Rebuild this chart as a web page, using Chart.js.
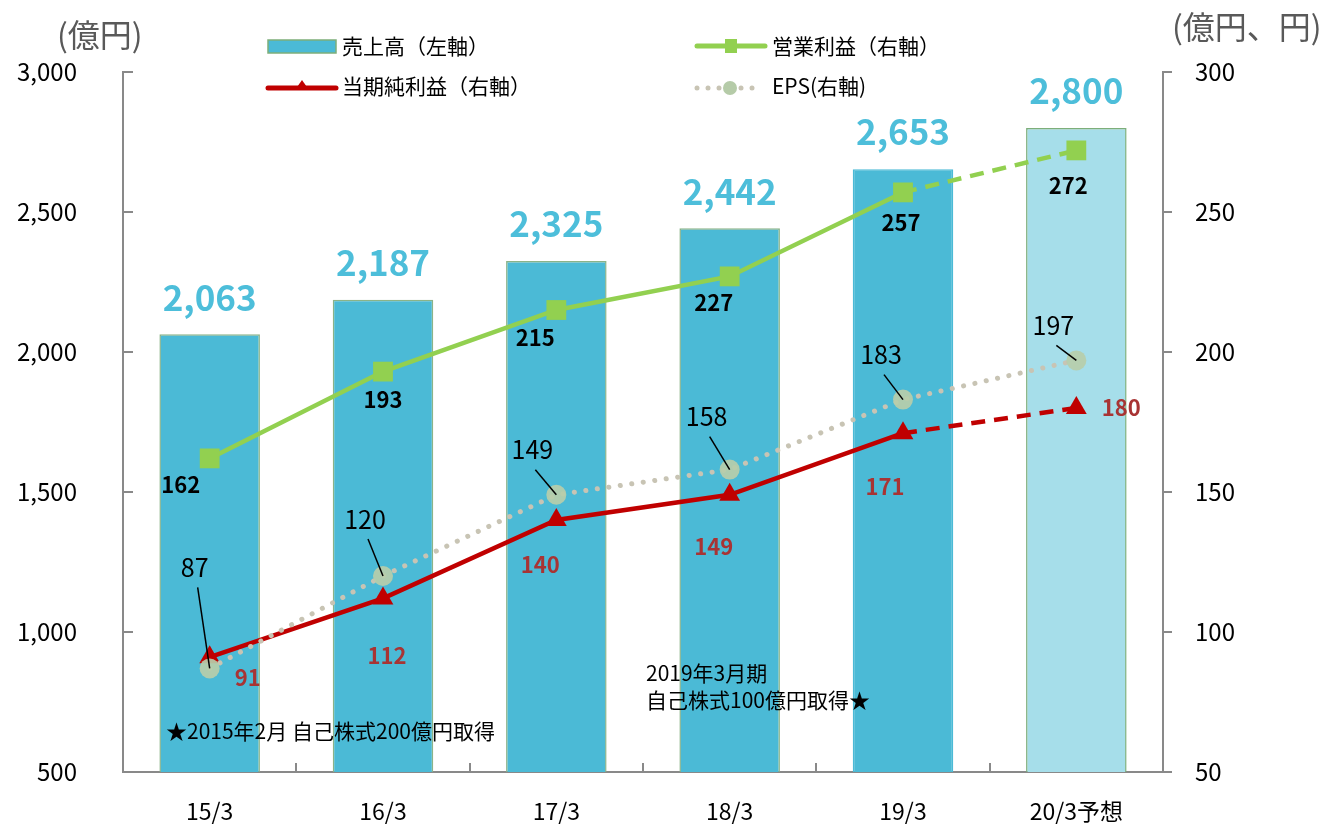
<!DOCTYPE html>
<html lang="ja">
<head>
<meta charset="utf-8">
<script src="https://cdn.jsdelivr.net/npm/chart.js@4"></script>
<style>
  html, body { margin: 0; padding: 0; background: #fff; }
  #wrap { width: 1329px; height: 827px; position: relative; }
</style>
</head>
<body>
<div id="wrap"><canvas id="chartUriage" width="1329" height="827"></canvas></div>
<script>
const categories = ['15/3', '16/3', '17/3', '18/3', '19/3', '20/3予想'];
const uriage = [2063, 2187, 2325, 2442, 2653, 2800];     // 売上高（左軸）
const eigyo = [162, 193, 215, 227, 257, 272];            // 営業利益（右軸）
const junrieki = [91, 112, 140, 149, 171, 180];          // 当期純利益（右軸）
const eps = [87, 120, 149, 158, 183, 197];               // EPS（右軸）
const leftTicks = [500, 1000, 1500, 2000, 2500, 3000];
const rightTicks = [50, 100, 150, 200, 250, 300];

const FONT = '"Noto Sans CJK JP", "Noto Sans", sans-serif';
const AXIS_COLOR = '#898989';

// label offsets from each point (px)
const eigyoOff = [[-29, 26], [0, 28], [-21, 28], [-16, 26], [-2, 30], [-8, 35]];
const junOff = [[38, 20], [4, 57], [-16, 45], [-16, 52], [-18, 53], [45, 0]];
const epsOff = [[-15, -101], [-18, -57], [-24, -45], [-23, -53], [-22, -45], [-23, -35]];

const labelsPlugin = {
  id: 'labels',
  afterDatasetsDraw(chart) {
    const c = chart.ctx;
    const x = chart.scales.x, yL = chart.scales.yL, yR = chart.scales.yR;
    c.save();
    c.textAlign = 'center';
    c.textBaseline = 'middle';

    // 売上高
    c.font = 'bold 35px ' + FONT;
    c.fillStyle = '#4DBEDA';
    uriage.forEach((v, i) => {
      c.fillText(v.toLocaleString('en-US'), x.getPixelForValue(i), yL.getPixelForValue(v) - 37);
    });

    // 営業利益
    c.font = 'bold 22px ' + FONT;
    c.fillStyle = '#000';
    eigyo.forEach((v, i) => {
      c.fillText(v, x.getPixelForValue(i) + eigyoOff[i][0], yR.getPixelForValue(v) + eigyoOff[i][1]);
    });

    // 当期純利益
    c.fillStyle = '#A83434';
    junrieki.forEach((v, i) => {
      c.fillText(v, x.getPixelForValue(i) + junOff[i][0], yR.getPixelForValue(v) + junOff[i][1]);
    });

    // EPS with leader lines
    c.font = '25px ' + FONT;
    c.fillStyle = '#000';
    c.strokeStyle = '#000';
    c.lineWidth = 1.5;
    eps.forEach((v, i) => {
      const px = x.getPixelForValue(i), py = yR.getPixelForValue(v);
      const lx = px + epsOff[i][0], ly = py + epsOff[i][1];
      c.fillText(v, lx, ly);
      c.beginPath();
      c.moveTo(lx + 3, ly + 20);
      c.lineTo(px, py);
      c.stroke();
    });
    c.restore();
  },
  afterDraw(chart) {
    const c = chart.ctx;
    const x = chart.scales.x, yL = chart.scales.yL, yR = chart.scales.yR;
    const area = chart.chartArea;
    c.save();

    // axis tick marks
    c.strokeStyle = AXIS_COLOR;
    c.lineWidth = 2;
    c.beginPath();
    leftTicks.forEach(t => {
      const y = Math.round(yL.getPixelForValue(t));
      c.moveTo(area.left, y); c.lineTo(area.left + 10, y);
    });
    rightTicks.forEach(t => {
      const y = Math.round(yR.getPixelForValue(t));
      c.moveTo(area.right, y); c.lineTo(area.right + 9, y);
    });
    const step = x.getPixelForValue(1) - x.getPixelForValue(0);
    for (let i = 1; i < categories.length; i++) {
      const xx = Math.round(x.getPixelForValue(i) - step / 2);
      c.moveTo(xx, area.bottom); c.lineTo(xx, area.bottom - 9);
    }
    c.stroke();

    // axis titles
    c.fillStyle = '#595959';
    c.font = '32px ' + FONT;
    c.textBaseline = 'middle';
    c.textAlign = 'left';
    c.fillText('(億円)', 57, 35);
    c.fillText('(億円、円)', 1172, 27);

    // legend
    c.font = '21px ' + FONT;
    c.fillStyle = '#4BBAD6';
    c.fillRect(268, 40, 68, 13);
    c.strokeStyle = '#7DAE7A';
    c.lineWidth = 1.5;
    c.strokeRect(268, 40, 68, 13);
    c.fillStyle = '#000';
    c.fillText('売上高（左軸）', 342, 46);

    c.strokeStyle = '#92D050';
    c.lineWidth = 5;
    c.lineCap = 'round';
    c.beginPath(); c.moveTo(697, 46); c.lineTo(765, 46); c.stroke();
    c.fillStyle = '#92D050';
    c.fillRect(725, 39, 12, 14);
    c.fillStyle = '#000';
    c.fillText('営業利益（右軸）', 772, 46);

    c.strokeStyle = '#C00000';
    c.beginPath(); c.moveTo(268, 88); c.lineTo(336, 88); c.stroke();
    c.fillStyle = '#C00000';
    c.beginPath(); c.moveTo(302, 80); c.lineTo(309, 90); c.lineTo(295, 90); c.closePath(); c.fill();
    c.fillStyle = '#000';
    c.fillText('当期純利益（右軸）', 342, 86);

    c.fillStyle = '#C8C4B4';
    [697, 708, 719, 741, 752].forEach(dx => {
      c.beginPath(); c.arc(dx, 88, 2.5, 0, Math.PI * 2); c.fill();
    });
    c.fillStyle = '#B5CBA8';
    c.beginPath(); c.arc(730, 88, 7, 0, Math.PI * 2); c.fill();
    c.fillStyle = '#000';
    c.fillText('EPS(右軸)', 772, 86);

    // notes
    c.font = '21px ' + FONT;
    c.fillText('★2015年2月 自己株式200億円取得', 166, 731);
    c.fillText('2019年3月期', 646, 673);
    c.fillText('自己株式100億円取得★', 646, 700);
    c.restore();
  }
};

const lastDash = ctx => ctx.p0DataIndex === 4 ? [14, 9] : undefined;

new Chart(document.getElementById('chartUriage').getContext('2d'), {
  data: {
    labels: categories,
    datasets: [
      {
        type: 'line',
        label: '営業利益（右軸）',
        data: eigyo,
        yAxisID: 'yR',
        borderColor: '#92D050',
        backgroundColor: '#92D050',
        borderWidth: 4.5,
        pointStyle: 'rect',
        pointRadius: 14,
        pointBorderWidth: 0,
        segment: { borderDash: lastDash },
        order: 1
      },
      {
        type: 'line',
        label: '当期純利益（右軸）',
        data: junrieki,
        yAxisID: 'yR',
        borderColor: '#C00000',
        backgroundColor: '#C00000',
        borderWidth: 4.5,
        pointStyle: 'triangle',
        pointRadius: 12,
        pointBorderWidth: 0,
        segment: { borderDash: lastDash },
        order: 3
      },
      {
        type: 'line',
        label: 'EPS(右軸)',
        data: eps,
        yAxisID: 'yR',
        borderColor: '#C8C4B4',
        backgroundColor: 'rgba(183,205,170,0.92)',
        borderWidth: 5,
        borderCapStyle: 'round',
        borderDash: [0.1, 11.5],
        pointRadius: 10,
        pointBorderWidth: 0,
        order: 2
      },
      {
        type: 'bar',
        label: '売上高（左軸）',
        data: uriage,
        yAxisID: 'yL',
        backgroundColor: ['#4BBAD6', '#4BBAD6', '#4BBAD6', '#4BBAD6', '#4BBAD6', '#A6DEEA'],
        borderColor: ['#8BB388', '#8BB388', '#8BB388', '#8BB388', '#4BBAD6', '#7DAE7A'],
        borderWidth: 1.5,
        borderSkipped: false,
        categoryPercentage: 1,
        barPercentage: 0.58,
        order: 4
      }
    ]
  },
  options: {
    responsive: false,
    animation: false,
    layout: { padding: { top: 72, left: 0, right: 0, bottom: 0 } },
    plugins: { legend: { display: false }, tooltip: { enabled: false } },
    scales: {
      x: {
        offset: true,
        grid: { display: false },
        border: { display: true, color: AXIS_COLOR, width: 2 },
        ticks: { color: '#000', font: { family: FONT, size: 23 }, padding: 17, maxRotation: 0 },
        afterFit: s => { s.height = 55; }
      },
      yL: {
        position: 'left',
        min: 500,
        max: 3000,
        afterBuildTicks: s => { s.ticks = leftTicks.map(v => ({ value: v })); },
        grid: { display: false },
        border: { display: true, color: AXIS_COLOR, width: 2 },
        ticks: {
          color: '#000', font: { family: FONT, size: 24 }, padding: 38,
          callback: v => v.toLocaleString('en-US')
        },
        afterFit: s => { s.width = 123; }
      },
      yR: {
        position: 'right',
        min: 50,
        max: 300,
        afterBuildTicks: s => { s.ticks = rightTicks.map(v => ({ value: v })); },
        grid: { display: false },
        border: { display: true, color: AXIS_COLOR, width: 2 },
        ticks: { color: '#000', font: { family: FONT, size: 24 }, padding: 24 },
        afterFit: s => { s.width = 166; }
      }
    }
  },
  plugins: [labelsPlugin]
});
</script>
</body>
</html>
